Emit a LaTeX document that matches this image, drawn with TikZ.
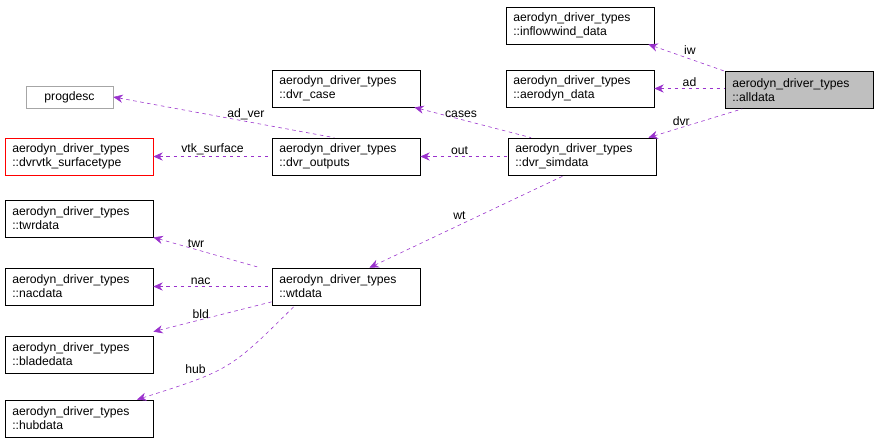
\documentclass[tikz,border=0pt]{standalone}
\usepackage{fontspec}
\setmainfont{Liberation Sans}
\usetikzlibrary{arrows.meta}
\definecolor{edgepurple}{HTML}{9A32CD}
\begin{document}
\begin{tikzpicture}[x=0.03cm,y=-0.03cm,font=\fontsize{10.4}{12}\selectfont,
  cls/.style={draw=black,fill=white,align=left,text width=4.0cm,minimum width=4.44cm,minimum height=1.11cm,inner sep=1pt,line width=0.6pt},
  rel/.style={draw=edgepurple,dashed,line width=0.5pt,{Stealth[length=8pt,width=7pt]}-},
  lbl/.style={fill=none,inner sep=1pt}]
\useasboundingbox (0,0) rectangle (877,444);
% classes
\node[cls] (iw) at (580,25.5) {aerodyn\_driver\_types\\::inflowwind\_data};
\node[cls] (ad) at (580,88.5) {aerodyn\_driver\_types\\::aerodyn\_data};
\node[cls,fill=black!25] (all) at (799,90) {aerodyn\_driver\_types\\::alldata};
\node[cls] (case) at (346,88.5) {aerodyn\_driver\_types\\::dvr\_case};
\node[draw=black!35,line width=0.6pt,minimum width=2.61cm,minimum height=0.66cm,inner sep=1pt] (prog) at (69.5,97) {progdesc};
\node[cls,draw=red] (vtk) at (79,156.5) {aerodyn\_driver\_types\\::dvrvtk\_surfacetype};
\node[cls] (out) at (346,156.5) {aerodyn\_driver\_types\\::dvr\_outputs};
\node[cls] (sim) at (582,156.5) {aerodyn\_driver\_types\\::dvr\_simdata};
\node[cls] (twr) at (79,218.5) {aerodyn\_driver\_types\\::twrdata};
\node[cls] (wt) at (346,286.5) {aerodyn\_driver\_types\\::wtdata};
\node[cls] (nac) at (79,286.5) {aerodyn\_driver\_types\\::nacdata};
\node[cls] (bld) at (79,354.5) {aerodyn\_driver\_types\\::bladedata};
\node[cls] (hub) at (79,418.5) {aerodyn\_driver\_types\\::hubdata};
% relations
\draw[rel] (iw.south east) ++(-6,0) -- (all.north west) node[lbl,pos=0.45,above right]{iw};
\draw[rel] (ad.east) -- (all.west |- ad.east) node[lbl,pos=0.5,above]{ad};
\draw[rel] (sim.north east) ++(-8,0) -- ([xshift=15pt]all.south west) node[lbl,pos=0.35,above]{dvr};
\draw[rel] (case.south east) ++(-6,0) -- ([xshift=20pt]sim.north west) node[lbl,pos=0.4,above]{cases};
\draw[rel] (out.east) -- (sim.west) node[lbl,pos=0.45,above]{out};
\draw[rel] (prog.east) -- ([xshift=-10pt]out.north) node[lbl,pos=0.6,above]{ad\_ver};
\draw[rel] (vtk.east) -- (out.west) node[lbl,pos=0.5,above]{vtk\_surface};
\draw[rel] ([xshift=20pt]wt.north) -- ([xshift=-15pt]sim.south) node[lbl,pos=0.5,above left]{wt};
\draw[rel] (twr.south east) -- ([xshift=-10pt]wt.north west) node[lbl,pos=0.4,above]{twr};
\draw[rel] (nac.east) -- (wt.west) node[lbl,pos=0.4,above]{nac};
\draw[rel] (bld.north east) ++(0,-4) -- ([yshift=3pt]wt.south west) node[lbl,pos=0.4,above]{bld};
\draw[rel] ([xshift=-14pt]hub.north east) .. controls (230,370) .. ([xshift=20pt]wt.south west) node[lbl,pos=0.35,above left]{hub};
\end{tikzpicture}
\end{document}
